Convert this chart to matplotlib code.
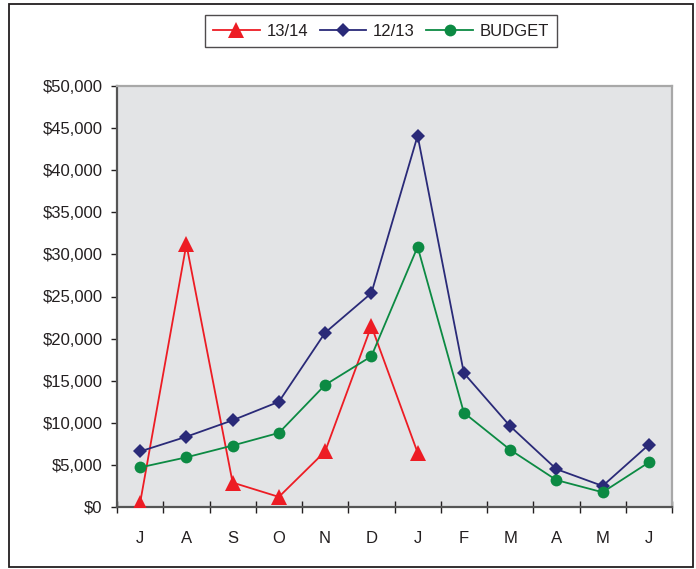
import matplotlib
matplotlib.use("Agg")
import matplotlib.pyplot as plt
from matplotlib.patches import Rectangle

months = ["J", "A", "S", "O", "N", "D", "J", "F", "M", "A", "M", "J"]
season_13_14 = [500, 31200, 2900, 1200, 6600, 21500, 6450]
season_12_13 = [6600, 8350, 10300, 12500, 20700, 25400, 44100, 15900, 9600, 4500, 2500, 7400]
budget = [4700, 5900, 7300, 8800, 14500, 17900, 30900, 11200, 6800, 3200, 1750, 5300]
y_ticks = [0, 5000, 10000, 15000, 20000, 25000, 30000, 35000, 40000, 45000, 50000]

plt.rcParams["font.family"] = ["Liberation Sans", "DejaVu Sans"]

W, H = 696, 569
fig = plt.figure(figsize=(W / 100, H / 100), dpi=100)
fig.patch.set_facecolor("white")

# outer frame around the whole chart
fig.add_artist(Rectangle((9 / W, 1 - 567 / H), (693 - 9) / W, (567 - 4) / H,
                         transform=fig.transFigure, fill=False,
                         edgecolor="#231F20", linewidth=1.3))

ax = fig.add_axes([117 / W, 1 - 507 / H, (672 - 117) / W, (507 - 86) / H])
ax.set_facecolor("#E3E4E6")

red = "#ED1C24"
navy = "#2A2A78"
green = "#0C8A43"

x_all = list(range(len(months)))
l1, = ax.plot(x_all[:len(season_13_14)], season_13_14, color=red, lw=1.3,
              marker="^", markersize=11, markeredgewidth=0, label="13/14",
              zorder=3)
l2, = ax.plot(x_all, season_12_13, color=navy, lw=1.3, marker="D",
              markersize=7, markeredgewidth=0, label="12/13", zorder=3)
l3, = ax.plot(x_all, budget, color=green, lw=1.3, marker="o",
              markersize=8.5, markeredgewidth=0, label="BUDGET", zorder=3)

ax.set_xlim(-0.5, len(months) - 0.5)
ax.set_ylim(0, 50000)
ax.set_yticks(y_ticks)
ax.set_yticklabels(["$0"] + [f"${v:,}" for v in y_ticks[1:]])

ax.set_xticks(x_all)
ax.set_xticklabels(months)
ax.set_xticks([i - 0.5 for i in range(len(months) + 1)], minor=True)
ax.tick_params(axis="x", which="major", length=0, pad=17, labelsize=12,
               colors="#231F20")
ax.tick_params(axis="x", which="minor", direction="inout", length=9,
               width=1.0, color="#231F20")
ax.tick_params(axis="y", which="major", direction="out", length=4.5,
               width=1.0, color="#231F20", pad=6, labelsize=12,
               labelcolor="#231F20")

for side in ("left", "bottom"):
    ax.spines[side].set_color("#555555")
    ax.spines[side].set_linewidth(1.6)
for side in ("top", "right"):
    ax.spines[side].set_color("#A8A8A8")
    ax.spines[side].set_linewidth(1.6)

leg = fig.legend(handles=[l1, l2, l3], loc="center", ncol=3,
                 bbox_to_anchor=((210 + 552) / 2 / W, 1 - 31 / H),
                 fontsize=12, frameon=True, fancybox=False,
                 handlelength=2.8, handletextpad=0.4, columnspacing=0.7,
                 borderpad=0.5, borderaxespad=0)
leg.get_frame().set_edgecolor("#231F20")
leg.get_frame().set_linewidth(1.0)
for t in leg.get_texts():
    t.set_color("#231F20")

fig.savefig("out.png", dpi=100, facecolor="white")
